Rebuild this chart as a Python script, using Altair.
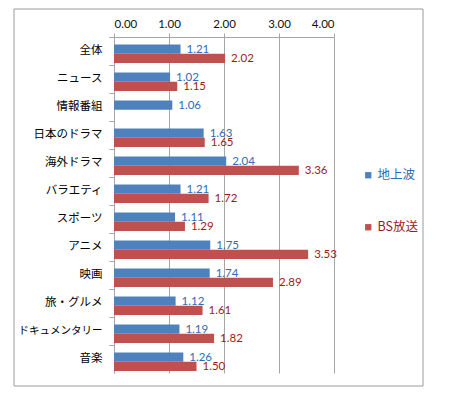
import altair as alt
import pandas as pd

categories = ["全体", "ニュース", "情報番組", "日本のドラマ", "海外ドラマ", "バラエティ",
              "スポーツ", "アニメ", "映画", "旅・グルメ", "ドキュメンタリー", "音楽"]
series = ["地上波", "BS放送"]
terrestrial = [1.21, 1.02, 1.06, 1.63, 2.04, 1.21, 1.11, 1.75, 1.74, 1.12, 1.19, 1.26]
bs = [2.02, 1.15, None, 1.65, 3.36, 1.72, 1.29, 3.53, 2.89, 1.61, 1.82, 1.50]
x_ticks = [0, 1, 2, 3, 4]

bar_colors = ["#4F81BD", "#C0504D"]
text_colors = ["#2E6DB4", "#9B1C1C"]

rows = []
for c, t, b in zip(categories, terrestrial, bs):
    rows.append({"category": c, "series": series[0], "value": t})
    if b is not None:
        rows.append({"category": c, "series": series[1], "value": b})
df = pd.DataFrame(rows)

JP = "Noto Sans CJK JP"
NUM = "Lato"
GRAY = "#A6A6A6"

base = alt.Chart(df).encode(
    y=alt.Y("category:N", sort=categories, title=None,
            scale=alt.Scale(paddingInner=0, paddingOuter=0),
            axis=alt.Axis(labelFont=JP,
                          labelFontSize={"condition": {"test": "length(datum.label) > 6",
                                                       "value": 10.5},
                                         "value": 11.5},
                          labelColor="#000000",
                          domainColor=GRAY, tickColor=GRAY, tickSize=5,
                          bandPosition=0, tickExtra=True, labelPadding=7,
                          grid=False)),
    yOffset=alt.YOffset("series:N", sort=series,
                        scale=alt.Scale(domain=series, paddingInner=0,
                                        paddingOuter=0.5, align=0.8)),
    x=alt.X("value:Q", title=None,
            scale=alt.Scale(domain=[0, 4], nice=False),
            axis=alt.Axis(orient="top", values=x_ticks, format=".2f",
                          labelFont=NUM, labelFontSize=11.5, labelColor="#111111",
                          domainColor=GRAY, tickColor=GRAY, tickSize=4,
                          gridColor=GRAY, grid=True, labelPadding=4)),
)

bars = base.mark_bar(size=9.3).encode(
    color=alt.Color("series:N", sort=series,
                    scale=alt.Scale(domain=series, range=bar_colors),
                    legend=alt.Legend(
                        title=None, orient="none", legendX=248, legendY=132,
                        direction="vertical", symbolType="square", symbolSize=40,
                        symbolStrokeWidth=0, labelFont=JP, labelFontSize=12.5,
                        labelOffset=3, rowPadding=39,
                        labelColor=alt.ExprRef(
                            "datum.value == '地上波' ? '#2E6DB4' : '#9B1C1C'"),
                    )),
)

text = base.mark_text(align="left", baseline="middle", dx=6, dy=1,
                      font=NUM, fontSize=11.5).encode(
    text=alt.Text("value:Q", format=".2f"),
    color=alt.Color("series:N", sort=series,
                    scale=alt.Scale(domain=series, range=text_colors),
                    legend=None),
)

frame = alt.Chart(pd.DataFrame({"k": [0]})).mark_rect(
    fill=None, stroke="#9A9A9A", strokeWidth=1).encode(
    x=alt.value(-100), x2=alt.value(309),
    y=alt.value(-28), y2=alt.value(349),
)

chart = alt.layer(frame, bars, text).resolve_scale(color="independent").properties(
    width=220, height=336,
    autosize=alt.AutoSizeParams(type="none"),
    padding={"left": 106, "top": 29, "right": 108, "bottom": 14},
).configure_view(stroke=None)

chart.save("out.html", embed_options={"renderer": "svg", "actions": False})
